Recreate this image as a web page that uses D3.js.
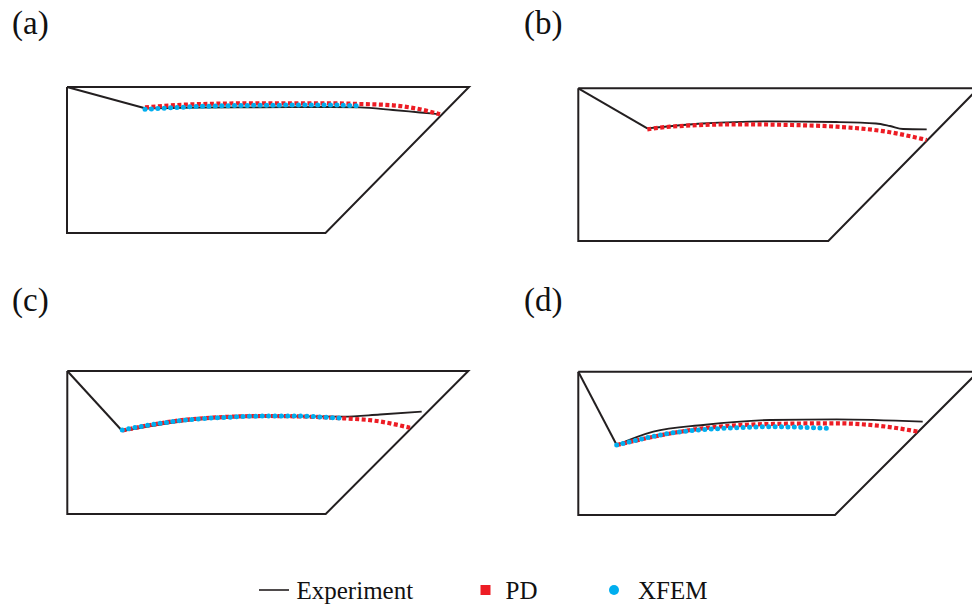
<!DOCTYPE html>
<html>
<head>
<meta charset="utf-8">
<script src="https://cdn.jsdelivr.net/npm/d3@7"></script>
<style>
  body { margin: 0; background: #fff; }
</style>
</head>
<body>
<svg id="chart"></svg>
<script>
const width = 972;
const height = 609;
const serif = "'Liberation Serif', Tinos, 'Times New Roman', Times, 'DejaVu Serif', serif";

// panel labels
const panelNames = ['(a)', '(b)', '(c)', '(d)'];

// specimen outlines, local coords (x right, y down)
const outlineA = [[0, 0], [402, 0], [258.5, 146], [0, 146], [0, 0]];
const outlineB = [[0, 0], [400, 0], [250, 152.7], [0, 152.7], [0, 0]];
const outlineC = [[0, 0], [401, 0], [258.4, 143], [0, 143], [0, 0]];
const outlineD = [[0, 0], [400, 0], [256.7, 143.3], [0, 143.3], [0, 0]];

// notch lines
const notchA = [[0, 0], [78, 21.3]];
const notchB = [[0, 0], [69, 40]];
const notchC = [[0, 0], [55, 60]];
const notchD = [[0, 0], [38.4, 73.3]];

// crack paths: experiment
const expA = [[78, 21.5], [133, 20.5], [193, 20.3], [263, 20], [293, 20.3], [326, 23], [353, 25.5], [373, 27.3]];
const expB = [[69, 40], [124.7, 35.2], [191.7, 33], [257.7, 33.7], [297.7, 35.2], [311.7, 37.7], [324.7, 40.7], [348.4, 41]];
const expC = [[55, 60], [126, 49], [192.7, 45], [276, 45.7], [312.7, 43.5], [354.4, 40.7]];
const expD = [[38.4, 73.3], [75, 60], [125, 53.3], [191.7, 48.3], [258.4, 47.6], [344.4, 50]];

// crack paths: PD
const pdA = [[78, 20.3], [126, 17.3], [193, 16.3], [260, 16.3], [293, 17], [326, 18.3], [353, 22.3], [373, 27.3]];
const pdB = [[69, 41], [91.7, 38.4], [158.4, 36], [225, 37], [258.4, 38.4], [308.4, 43.4], [348.4, 51.7]];
const pdC = [[55, 59.5], [126, 48], [199.4, 45], [276, 47.3], [309.4, 50], [342.7, 56.7]];
const pdD = [[38.4, 73.3], [91.7, 61.8], [125, 56.6], [191.7, 52.3], [258.4, 51.6], [308.4, 55], [340, 60]];

// crack paths: XFEM (none for b)
const xfemA = [[78, 22.3], [126, 19.7], [193, 18.3], [260, 18], [295, 19]];
const xfemB = [];
const xfemC = [[55, 59], [92.7, 52.3], [126, 48.3], [159.4, 46.3], [199.4, 45], [226, 45], [259.4, 46.3], [276, 47.3]];
const xfemD = [[38.4, 73.3], [91.7, 61.6], [158.4, 56], [191.7, 55], [225, 55.6], [248.4, 56.6]];

const legendNames = ['Experiment', 'PD', 'XFEM'];

const colors = { line: '#231f20', pd: '#ed1c24', xfem: '#00aeef' };

const panels = [
  { name: panelNames[0], origin: [67, 87], label: [12, 34], outline: outlineA, notch: notchA, exp: expA, pd: pdA, xfem: xfemA },
  { name: panelNames[1], origin: [578.3, 88.3], label: [524, 34], outline: outlineB, notch: notchB, exp: expB, pd: pdB, xfem: xfemB },
  { name: panelNames[2], origin: [67.3, 371], label: [12, 311], outline: outlineC, notch: notchC, exp: expC, pd: pdC, xfem: xfemC },
  { name: panelNames[3], origin: [578.3, 371.7], label: [524, 311], outline: outlineD, notch: notchD, exp: expD, pd: pdD, xfem: xfemD }
];

const svg = d3.select('#chart')
              .attr('width', width)
              .attr('height', height);

panels.forEach(p => {
  const x = d3.scaleLinear().domain([0, 400]).range([p.origin[0], p.origin[0] + 400]);
  const y = d3.scaleLinear().domain([0, 150]).range([p.origin[1], p.origin[1] + 150]);

  const straight = d3.line().x(d => x(d[0])).y(d => y(d[1]));
  const smooth = d3.line().x(d => x(d[0])).y(d => y(d[1])).curve(d3.curveMonotoneX);

  const g = svg.append('g');

  g.append('text')
   .attr('x', p.label[0])
   .attr('y', p.label[1])
   .attr('font-family', serif)
   .attr('font-size', 33)
   .attr('fill', '#111')
   .text(p.name);

  g.append('path')
   .attr('d', straight(p.outline))
   .attr('fill', 'none')
   .attr('stroke', colors.line)
   .attr('stroke-width', 2)
   .attr('stroke-linejoin', 'miter');

  g.append('path')
   .attr('d', straight(p.notch))
   .attr('fill', 'none')
   .attr('stroke', colors.line)
   .attr('stroke-width', 2);

  g.append('path')
   .attr('d', smooth(p.exp))
   .attr('fill', 'none')
   .attr('stroke', colors.line)
   .attr('stroke-width', 1.8);

  g.append('path')
   .attr('d', smooth(p.pd))
   .attr('fill', 'none')
   .attr('stroke', colors.pd)
   .attr('stroke-width', 4.2)
   .attr('stroke-dasharray', '4,2.5');

  if (p.xfem.length) {
    g.append('path')
     .attr('d', smooth(p.xfem))
     .attr('fill', 'none')
     .attr('stroke', colors.xfem)
     .attr('stroke-width', 5)
     .attr('stroke-linecap', 'round')
     .attr('stroke-dasharray', '0,6.4');
  }
});

// Legend
const legend = svg.append('g').attr('transform', 'translate(0, 590)');
const legendX = d3.scalePoint().domain(legendNames).range([259, 614]);

legend.append('line')
      .attr('x1', legendX('Experiment'))
      .attr('x2', legendX('Experiment') + 30)
      .attr('stroke', colors.line)
      .attr('stroke-width', 1.6);

legend.append('rect')
      .attr('x', legendX('PD') - 5 + 49)
      .attr('y', -5)
      .attr('width', 10)
      .attr('height', 10)
      .attr('fill', colors.pd);

legend.append('circle')
      .attr('cx', legendX('XFEM'))
      .attr('cy', 0)
      .attr('r', 5)
      .attr('fill', colors.xfem);

const labelOffsets = { Experiment: 37.5, PD: 69, XFEM: 24 };
legend.selectAll('.legend-text')
      .data(legendNames)
      .enter()
      .append('text')
      .attr('class', 'legend-text')
      .attr('x', d => legendX(d) + labelOffsets[d])
      .attr('y', 8.5)
      .attr('font-family', serif)
      .attr('font-size', 25)
      .attr('fill', '#111')
      .text(d => d);
</script>
</body>
</html>
